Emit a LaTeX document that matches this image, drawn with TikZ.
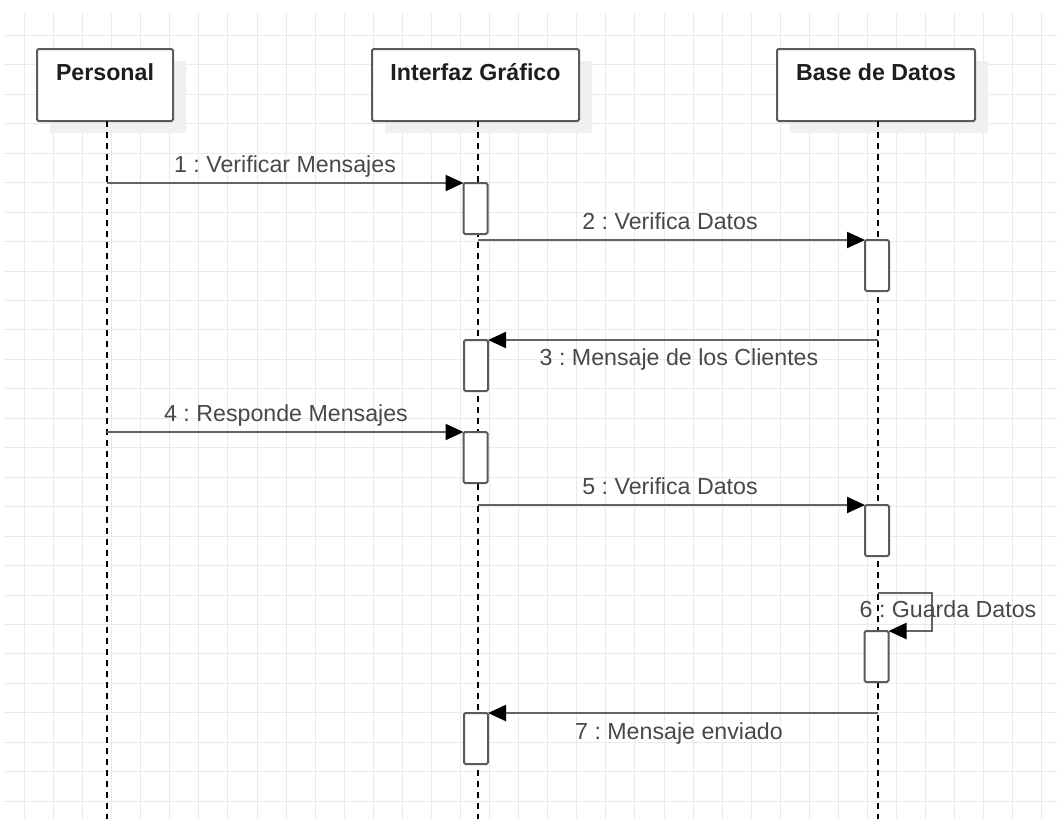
\documentclass[tikz,border=0pt]{standalone}
\usepackage{fontspec}
\setmainfont{Liberation Sans}
\frenchspacing
\usetikzlibrary{arrows.meta,shadows}

\definecolor{gridline}{RGB}{234,234,234}
\definecolor{shadowgray}{RGB}{240,240,240}
\definecolor{edge}{RGB}{90,90,90}
\definecolor{msgline}{RGB}{100,100,100}
\definecolor{labeltext}{RGB}{72,72,72}
\definecolor{headtext}{RGB}{30,30,30}

\tikzset{
  gridstroke/.style={draw=gridline, line width=1.3pt},
  header/.style={draw=edge, line width=2pt, fill=white, rounded corners=1.5pt,
    minimum width=#1, inner xsep=0pt, inner ysep=0pt, outer sep=0pt,
    text height=31.5pt, text depth=40.5pt,
    font=\fontsize{23.2}{28}\selectfont\bfseries, text=headtext,
    drop shadow={shadow xshift=13pt, shadow yshift=-12pt, fill=shadowgray, opacity=1}},
  lifeline/.style={draw=black, line width=2pt, dash pattern=on 6pt off 5pt},
  activation/.style={draw=edge, line width=2pt, fill=white, rounded corners=1.5pt,
    minimum width=24pt, minimum height=51pt, inner sep=0pt, outer sep=0pt, anchor=north},
  msg/.style={draw=msgline, line width=2.2pt,
    -{Triangle[length=18pt, width=16pt, fill=black, color=black]}},
  msglabel/.style={font=\fontsize{23.2}{28}\selectfont, text=labeltext,
    inner sep=0pt, anchor=base},
}

\begin{document}
\begin{tikzpicture}[x=1pt, y=-1pt]
  \useasboundingbox (0,0) rectangle (1057,819);

  % background grid, snapped to whole units so every line renders alike
  \foreach \i in {0,...,35} {
    \pgfmathsetmacro{\gx}{round(24+29.07*\i)+0.5}
    \draw[gridstroke] (\gx,13) -- (\gx,819);
  }
  \foreach \j in {0,...,26} {
    \pgfmathsetmacro{\gy}{round(35+29.45*\j)+0.5}
    \draw[gridstroke] (4,\gy) -- (1057,\gy);
  }

  % participants
  \node[header=136pt] (P) at (105,85) {Personal};
  \node[header=207pt] (I) at (475.5,85) {Interfaz Gráfico};
  \node[header=198pt] (B) at (876,85) {Base de Datos};

  % lifeline ends
  \coordinate (Pl) at (107,819);
  \coordinate (Il) at (478,819);
  \coordinate (Bl) at (878,819);

  \draw[lifeline] (P.south -| Pl) -- (Pl);
  \draw[lifeline] (I.south -| Il) -- (Il);
  \draw[lifeline] (B.south -| Bl) -- (Bl);

  % activation bars
  \node[activation] (A1) at (475.5,183) {};
  \node[activation] (A2) at (877,240) {};
  \node[activation] (A3) at (476,340) {};
  \node[activation] (A4) at (475.5,432) {};
  \node[activation] (A5) at (877,505) {};
  \node[activation] (A6) at (876.5,631) {};
  \node[activation] (A7) at (476,713) {};

  % messages
  \draw[msg] (Pl |- A1.north) -- (A1.north west);
  \draw[msg] (Il |- A2.north) -- (A2.north west);
  \draw[msg] (Bl |- A3.north) -- (A3.north east);
  \draw[msg] (Pl |- A4.north) -- (A4.north west);
  \draw[msg] (Il |- A5.north) -- (A5.north west);
  \coordinate (s6) at (878,593);
  \coordinate (t6) at (932,593);
  \draw[msg] (s6) -- (t6) |- (A6.north east);
  \draw[msg] (Bl |- A7.north) -- (A7.north east);

  % message labels
  \node[msglabel] (L1) at (285,172) {1 : Verificar Mensajes};
  \node[msglabel] (L2) at (670,229) {2 : Verifica Datos};
  \node[msglabel] (L3) at (679,365) {3 : Mensaje de los Clientes};
  \node[msglabel] (L4) at (286,421) {4 : Responde Mensajes};
  \node[msglabel] (L5) at (670,494) {5 : Verifica Datos};
  \node[msglabel] (L6) at (948,617) {6 : Guarda Datos};
  \node[msglabel] (L7) at (679,739) {7 : Mensaje enviado};
\end{tikzpicture}
\end{document}
